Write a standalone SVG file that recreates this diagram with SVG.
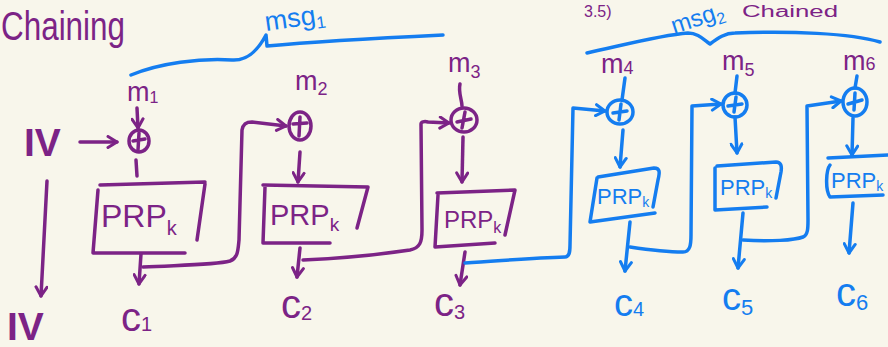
<svg xmlns="http://www.w3.org/2000/svg" width="888" height="347" viewBox="0 0 888 347">
  <defs>
    <style>
      .p{stroke:#7c2386;fill:none;stroke-width:3.5;stroke-linecap:round;stroke-linejoin:round}
      .b{stroke:#147df0;fill:none;stroke-width:3.5;stroke-linecap:round;stroke-linejoin:round}
      .tp{fill:#7c2386;font-family:"Liberation Sans",Arial,sans-serif}
      .tb{fill:#147df0;font-family:"Liberation Sans",Arial,sans-serif}
      .ap{marker-end:url(#headP)}
      .ab{marker-end:url(#headB)}
    </style>
    <marker id="headP" viewBox="0 0 14 14" refX="11" refY="7" markerWidth="14" markerHeight="14" markerUnits="userSpaceOnUse" orient="auto">
      <path d="M2,1.5 L11,7 L2,12.5" fill="none" stroke="#7c2386" stroke-width="3" stroke-linecap="round" stroke-linejoin="round"/>
    </marker>
    <marker id="headB" viewBox="0 0 14 14" refX="11" refY="7" markerWidth="14" markerHeight="14" markerUnits="userSpaceOnUse" orient="auto">
      <path d="M2,1.5 L11,7 L2,12.5" fill="none" stroke="#147df0" stroke-width="3" stroke-linecap="round" stroke-linejoin="round"/>
    </marker>
  </defs>

  <rect width="888" height="347" fill="#f8f6eb"/>

  <!-- headings -->
  <text class="tp" x="1" y="40" font-size="40" textLength="124" lengthAdjust="spacingAndGlyphs">Chaining</text>
  <text class="tp" x="584" y="17" font-size="16">3.5)</text>
  <text class="tp" x="742" y="17" font-size="16" textLength="96" lengthAdjust="spacingAndGlyphs">Chained</text>

  <!-- message braces -->
  <g id="msg1">
    <path class="b" d="M131,75 C160,63 200,58 232,60 C248,61 258,50 266,35 L267,46 C310,42 380,38 443,35"/>
    <text class="tb" x="266" y="31" font-size="27" transform="rotate(-8 266 31)">msg<tspan font-size="17" dy="5">1</tspan></text>
  </g>
  <g id="msg2">
    <path class="b" d="M587,53 C620,46 660,35 688,33 C698,33 704,40 710,44 C718,38 725,33 735,33 C790,31 850,33 880,42"/>
    <text class="tb" x="674" y="34" font-size="24" transform="rotate(-18 674 34)">msg<tspan font-size="16" dy="5">2</tspan></text>
  </g>

  <!-- initialisation vector -->
  <g id="iv-in">
    <text class="tp" x="24" y="156" font-size="39" font-weight="bold">IV</text>
  </g>
  <g id="iv-out">
    <text class="tp" x="7" y="340" font-size="39" font-weight="bold">IV</text>
  </g>

  <!-- message blocks -->
  <g id="m1"><text class="tp" x="127" y="101" font-size="27">m<tspan font-size="16" dy="2">1</tspan></text></g>
  <g id="m2"><text class="tp" x="295" y="90" font-size="27">m<tspan font-size="18" dy="5">2</tspan></text></g>
  <g id="m3"><text class="tp" x="448" y="72" font-size="27">m<tspan font-size="18" dy="6">3</tspan></text></g>
  <g id="m4"><text class="tp" x="601" y="73" font-size="27">m<tspan font-size="18" dy="1">4</tspan></text></g>
  <g id="m5"><text class="tp" x="722" y="70" font-size="27">m<tspan font-size="18" dy="6">5</tspan></text></g>
  <g id="m6"><text class="tp" x="843" y="70" font-size="27">m<tspan font-size="18" dy="0">6</tspan></text></g>

  <!-- XOR gates -->
  <g id="xor1" class="p"><ellipse cx="139" cy="141" rx="10" ry="11"/><path d="M133,141 L145,139 M139,133 L138,150"/></g>
  <g id="xor2" class="p"><ellipse cx="300" cy="126" rx="11" ry="14"/><path d="M293,124 L307,123 M300,117 L299,136"/></g>
  <g id="xor3" class="p"><ellipse cx="464" cy="120" rx="13" ry="12"/><path d="M457,122 L471,119 M465,112 L462,128"/></g>
  <g id="xor4" class="b"><ellipse cx="620" cy="112" rx="13" ry="12"/><path d="M613,113 L627,111 M621,104 L619,120"/></g>
  <g id="xor5" class="b"><ellipse cx="735" cy="105" rx="12" ry="12"/><path d="M728,106 L742,104 M736,97 L734,112"/></g>
  <g id="xor6" class="b"><ellipse cx="855" cy="102" rx="12" ry="14"/><path d="M848,104 L862,100 M855,93 L854,110"/></g>

  <!-- PRP blocks -->
  <g id="prp1">
    <path class="p" d="M100,185 L205,182 M205,184 L197,240 M98,190 L93,253 L185,253"/>
    <text class="tp" x="101" y="227" font-size="32">PRP<tspan font-size="20" dy="8">k</tspan></text>
  </g>
  <g id="prp2">
    <path class="p" d="M263,185 L368,187 L357,228 M265,187 L263,243 L330,243"/>
    <text class="tp" x="270" y="225" font-size="29">PRP<tspan font-size="19" dy="6">k</tspan></text>
  </g>
  <g id="prp3">
    <path class="p" d="M437,193 L515,190 L505,235 M438,195 L435,247 L495,243"/>
    <text class="tp" x="444" y="228" font-size="24">PRP<tspan font-size="16" dy="5">k</tspan></text>
  </g>
  <g id="prp4">
    <path class="b" d="M598,177 L654,168 C660,168 660,172 658,180 L653,207 M597,178 L590,222 L655,213"/>
    <text class="tb" x="597" y="204" font-size="22">PRP<tspan font-size="14" dy="3">k</tspan></text>
  </g>
  <g id="prp5">
    <path class="b" d="M717,166 L776,162 C781,162 782,166 781,172 L776,198 M715,168 L715,210 L767,207"/>
    <text class="tb" x="720" y="195" font-size="22">PRP<tspan font-size="14" dy="3">k</tspan></text>
  </g>
  <g id="prp6">
    <path class="b" d="M828,158 L888,155 M830,165 C826,170 825,190 830,197 L883,195"/>
    <text class="tb" x="831" y="188" font-size="22">PRP<tspan font-size="14" dy="3">k</tspan></text>
  </g>

  <!-- ciphertext blocks -->
  <g id="c1"><text class="tp" x="121" y="331" font-size="40">c<tspan font-size="20" dy="0">1</tspan></text></g>
  <g id="c2"><text class="tp" x="281" y="318" font-size="40">c<tspan font-size="20" dy="2">2</tspan></text></g>
  <g id="c3"><text class="tp" x="434" y="316" font-size="40">c<tspan font-size="20" dy="3">3</tspan></text></g>
  <g id="c4"><text class="tb" x="614" y="316" font-size="38">c<tspan font-size="20" dy="0">4</tspan></text></g>
  <g id="c5"><text class="tb" x="722" y="310" font-size="38">c<tspan font-size="22" dy="5">5</tspan></text></g>
  <g id="c6"><text class="tb" x="836" y="306" font-size="40">c<tspan font-size="22" dy="4">6</tspan></text></g>

  <!-- connectors -->
  <g id="connectors">
    <path class="p ap" d="M80,142 L117,142"/>
    <path class="p ap" d="M47,181 L41,296"/>
    <path class="p ap" d="M137,108 L138,128"/>
    <path class="p" d="M136,160 L137,176"/>
    <path class="p ap" d="M141,254 L139,284"/>
    <path class="p ap" d="M143,267 C180,265 215,265 230,261 C238,258 238,250 239,240 L242,130 C243,124 246,122 252,122 L286,126"/>
    <path class="p" d="M460,84 C458,92 462,100 462,106"/>
    <path class="p ap" d="M300,152 L298,182"/>
    <path class="p ap" d="M300,248 L297,277"/>
    <path class="p ap" d="M303,260 C350,258 390,253 410,250 C420,248 422,242 422,230 L421,124 C421,122 424,121 428,122 L449,123"/>
    <path class="p ap" d="M463,137 L462,182"/>
    <path class="p ap" d="M465,252 L460,285"/>

    <path class="b ab" d="M465,263 C500,261 530,258 565,257 C569,257 570,253 570,245 L573,108 L605,111"/>
    <path class="b" d="M625,78 L622,100"/>
    <path class="b ab" d="M623,130 L620,167"/>
    <path class="b ab" d="M630,222 L625,271"/>
    <path class="b ab" d="M630,247 C650,250 670,252 683,252 C690,252 691,245 691,235 L692,106 L721,104"/>
    <path class="b" d="M737,76 L735,93"/>
    <path class="b ab" d="M735,117 L737,153"/>
    <path class="b ab" d="M743,213 L738,268"/>
    <path class="b ab" d="M743,240 C770,242 795,240 803,237 C808,235 808,228 808,220 L807,106 L841,101"/>
    <path class="b" d="M857,76 L855,88"/>
    <path class="b ab" d="M853,118 L852,155"/>
    <path class="b ab" d="M853,203 L849,253"/>
  </g>
</svg>
